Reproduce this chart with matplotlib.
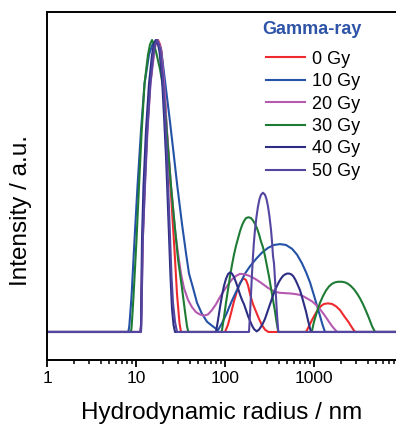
import matplotlib
matplotlib.use("Agg")
import matplotlib.pyplot as plt
from matplotlib.ticker import LogLocator, FixedLocator, NullFormatter

plt.rcParams['font.family'] = ['Liberation Sans', 'DejaVu Sans']

# ---- data (hydrodynamic radius in nm, normalised intensity) ----
labels = ["0 Gy", "10 Gy", "20 Gy", "30 Gy", "40 Gy", "50 Gy"]
colors = ["#EE2A2E", "#2352A6", "#B55AB0", "#1E7B34", "#2B2E83", "#5346A0"]
legend_title = "Gamma-ray"

red_r = [1, 11.23, 11.38, 11.53, 11.83, 12.46, 13.29, 14.37, 15.73, 16.56, 17.67, 18.61, 19.34, 20.64, 22.02, 24.41,
         27.08, 28.89, 30.82, 32.03,
         100, 108.1, 116.8, 126.2, 136.4, 147.4, 160.6, 172.2, 181.3, 191, 206.3, 227.1, 241, 258.5, 281.5, 306.6,
         813, 878.7, 949.5, 1026, 1109, 1199, 1295, 1436, 1593, 1767, 1960, 2174, 2429, 2673, 2888, 9000]
red_i = [0, 0, 0.02, 0.12, 0.315, 0.5, 0.69, 0.85, 0.95, 0.985, 1.0, 0.985, 0.96, 0.86, 0.70, 0.50,
         0.28, 0.13, 0.03, 0,
         0, 0.025, 0.064, 0.105, 0.14, 0.168, 0.184, 0.178, 0.16, 0.13, 0.095, 0.064, 0.045, 0.025, 0.008, 0,
         0, 0.02, 0.041, 0.06, 0.077, 0.089, 0.096, 0.098, 0.096, 0.088, 0.075, 0.055, 0.035, 0.015, 0, 0]

blue_r = [1, 8.20, 8.41, 8.90, 9.62, 10.40, 11.38, 12.46, 14.0, 15.33, 16.78, 17.9, 19.1, 21.18, 24.10, 26.73, 29.11,
          32.87, 36.45, 39.4, 43.36, 48.47, 54.73, 62.8, 73.88, 83.4,
          92.5, 104.5, 116.8, 129.6, 147.4, 167.8, 191, 223, 260.4, 304.2, 355.3, 415, 484.6, 566, 644.2, 733.2,
          813, 901.8, 1000, 1081, 1168, 1246, 1329, 9000]
blue_i = [0, 0, 0.02, 0.12, 0.315, 0.5, 0.69, 0.85, 0.95, 0.985, 1.0, 0.99, 0.97, 0.86, 0.72, 0.6, 0.5,
          0.37, 0.27, 0.2, 0.155, 0.1, 0.064, 0.035, 0.018, 0.006,
          0.03, 0.064, 0.1, 0.13, 0.165, 0.2, 0.225, 0.25, 0.272, 0.288, 0.298, 0.301, 0.298, 0.285, 0.265, 0.235,
          0.205, 0.17, 0.125, 0.09, 0.055, 0.025, 0, 0]

magenta_r = [1, 11.23, 11.38, 11.59, 11.92, 12.62, 13.47, 14.55, 15.93, 16.56, 17.44, 18.37, 19.1, 20.64, 22.30,
             24.73, 27.43, 29.64, 32.03, 34.61, 38.39, 42.57, 47.22, 52.4, 58.1, 64.4, 71.4, 79.2, 87.9, 97.4,
             108.1, 119.9, 132.9, 147.4, 163.5, 181.3, 201.1, 223, 247.3, 274.3, 304.2, 337.4, 374.1, 415, 472.3,
             537.4, 612, 696.2, 772, 856.3, 949.5, 1053, 1168, 1295, 1436, 1593, 1722, 1813, 9000]
magenta_i = [0, 0, 0.02, 0.12, 0.315, 0.5, 0.69, 0.85, 0.95, 0.985, 1.0, 0.985, 0.96, 0.86, 0.69,
             0.5, 0.35, 0.27, 0.2, 0.15, 0.11, 0.085, 0.068, 0.06, 0.056, 0.06, 0.075, 0.095, 0.12, 0.142,
             0.162, 0.18, 0.192, 0.199, 0.198, 0.194, 0.188, 0.18, 0.171, 0.161, 0.151, 0.143, 0.137, 0.134, 0.133,
             0.132, 0.13, 0.127, 0.121, 0.113, 0.105, 0.093, 0.078, 0.06, 0.04, 0.02, 0.008, 0, 0]

green_r = [1, 8.79, 8.94, 9.37, 10.13, 10.81, 11.59, 12.46, 13.64, 14.37, 15.13, 15.93, 16.78, 18.61, 20.11, 21.74,
           22.89, 24.73, 26.73, 29.64, 32.87, 35.52, 37.41, 38.7,
           91.8, 97.4, 102.6, 108.1, 113.8, 119.9, 126.2, 132.9, 140, 147.4, 155.2, 163.5, 172.2, 183.7, 196,
           206.3, 217.3, 228.8, 241, 253.8, 267.3, 281.5, 296.5, 312.2, 328.8, 346.2, 364.5, 379, 397.1,
           942.4, 1000, 1081, 1168, 1262, 1364, 1474, 1593, 1722, 1861, 2048, 2230, 2410, 2604, 2815, 3042, 3288,
           3553, 3840, 4150, 4485, 4846, 9000]
green_i = [0, 0, 0.02, 0.12, 0.315, 0.5, 0.69, 0.85, 0.95, 0.985, 1.0, 0.985, 0.96, 0.9, 0.84, 0.72,
           0.63, 0.5, 0.39, 0.25, 0.15, 0.07, 0.02, 0,
           0, 0.05, 0.1, 0.145, 0.19, 0.23, 0.265, 0.295, 0.32, 0.345, 0.365, 0.38, 0.39, 0.393, 0.39,
           0.382, 0.37, 0.355, 0.335, 0.31, 0.29, 0.26, 0.225, 0.19, 0.15, 0.11, 0.07, 0.035, 0,
           0, 0.035, 0.07, 0.1, 0.123, 0.142, 0.156, 0.165, 0.17, 0.172, 0.172, 0.17, 0.165, 0.157, 0.146, 0.132,
           0.115, 0.095, 0.072, 0.047, 0.02, 0, 0]

navy_r = [1, 11.23, 11.38, 11.47, 11.68, 12.14, 12.95, 14.0, 15.13, 15.93, 16.78, 17.67, 18.37, 19.6, 20.64, 21.74,
          22.59, 23.49, 24.41, 25.38, 26.38, 27.43,
          79.2, 83.4, 87.9, 92.5, 97.4, 102.6, 108.1, 113.8, 119.9, 126.2, 132.9, 140, 147.4, 155.2, 163.5, 172.2,
          181.3, 191, 201.1, 211.7, 227.1, 241, 253.8, 267.3, 281.5, 296.5, 312.2, 328.8, 346.3, 364.5, 383.9,
          404.3, 425.8, 448.4, 472.3, 497.3, 527.9, 558.8, 588.4, 619.6, 652.6, 696.2, 733.2, 772, 813, 856.3,
          901.8, 925.3, 9000]
navy_i = [0, 0, 0.02, 0.12, 0.315, 0.5, 0.69, 0.85, 0.95, 0.985, 1.0, 0.985, 0.96, 0.87, 0.74, 0.6,
          0.47, 0.33, 0.19, 0.08, 0.025, 0,
          0, 0.04, 0.085, 0.125, 0.158, 0.182, 0.198, 0.204, 0.2, 0.188, 0.17, 0.15, 0.128, 0.11, 0.095, 0.075,
          0.055, 0.038, 0.022, 0.01, 0.002, 0.008, 0.018, 0.03, 0.045, 0.065, 0.085, 0.105, 0.125, 0.143, 0.158,
          0.172, 0.183, 0.192, 0.197, 0.2, 0.2, 0.197, 0.19, 0.178, 0.163, 0.143, 0.12, 0.095, 0.07, 0.04,
          0.012, 0, 0]

purple_r = [1, 11.38, 11.47, 11.62, 11.92, 12.56, 13.39, 14.48, 15.65, 16.43, 17.22, 18.13, 18.85, 20.11, 21.18,
            22.30, 23.18, 24.1, 25.05, 26.04, 27.43, 28.89,
            186.1, 191, 196, 201.1, 206.3, 211.7, 217.3, 225.9, 234.8, 244.1, 253.8, 267.3, 281.5, 292.7, 304.2,
            316.2, 328.8, 337.4, 346.3, 355.3, 364.5, 374.1, 383.9, 397.1, 9000]
purple_i = [0, 0, 0.02, 0.12, 0.315, 0.5, 0.69, 0.85, 0.95, 0.985, 1.0, 0.985, 0.96, 0.87, 0.74,
            0.6, 0.47, 0.33, 0.19, 0.1, 0.035, 0,
            0, 0.06, 0.13, 0.2, 0.26, 0.31, 0.35, 0.395, 0.43, 0.455, 0.47, 0.477, 0.47, 0.455, 0.43,
            0.395, 0.35, 0.31, 0.26, 0.235, 0.18, 0.12, 0.06, 0, 0]

x_ticks = [1, 10, 100, 1000]
x_ticklabels = ["1", "10", "100", "1000"]

series = [(red_r, red_i), (blue_r, blue_i), (magenta_r, magenta_i),
          (green_r, green_i), (navy_r, navy_i), (purple_r, purple_i)]

# ---- figure ----
W, H = 396, 428
fig = plt.figure(figsize=(W / 100, H / 100), dpi=100)
left_px, right_px, top_px, bottom_px = 47, 403, 12, 360
ax = fig.add_axes([left_px / W, (H - bottom_px) / H, (right_px - left_px) / W, (bottom_px - top_px) / H])

for (r, i), c, lab in zip(series, colors, labels):
    ax.plot(r, i, color=c, lw=1.5, label=lab, solid_joinstyle='round')

ax.set_xscale('log')
ax.set_xlim(1, 10000)
ax.set_ylim(-0.096, 1.096)

for s in ax.spines.values():
    s.set_linewidth(1.4)

ax.xaxis.set_major_locator(FixedLocator(x_ticks))
ax.set_xticklabels(x_ticklabels)
ax.xaxis.set_minor_locator(LogLocator(base=10, subs=range(2, 10)))
ax.xaxis.set_minor_formatter(NullFormatter())
ax.tick_params(axis='x', which='major', direction='out', length=5, width=1.3, labelsize=12.5, pad=3)
ax.tick_params(axis='x', which='minor', direction='out', length=3, width=1.1)
ax.tick_params(axis='y', left=False, labelleft=False)

ax.set_xlabel("Hydrodynamic radius / nm", fontsize=17.5)
ax.xaxis.label.set_va('center')
ax.xaxis.set_label_coords((221.7 - left_px) / (right_px - left_px), (bottom_px - 413) / (bottom_px - top_px))
ax.set_ylabel("Intensity / a.u.", fontsize=17.5)
ax.yaxis.label.set_va('center')
ax.yaxis.set_label_coords((21.5 - left_px) / (right_px - left_px), (bottom_px - 210) / (bottom_px - top_px))

fig.text(311.7 / W, 1 - 29 / H, legend_title, ha='center', va='center', fontsize=13,
         fontweight='bold', color='#2E54A8')
leg = ax.legend(loc='upper left', bbox_to_anchor=(265.5 / W, 1 - 50.8 / H), bbox_transform=fig.transFigure,
                frameon=False, fontsize=13, handlelength=2.2, handletextpad=0.4,
                labelspacing=0.3, borderpad=0, borderaxespad=0)
for h in leg.get_lines():
    h.set_linewidth(1.5)

fig.savefig("out.png", dpi=100)
